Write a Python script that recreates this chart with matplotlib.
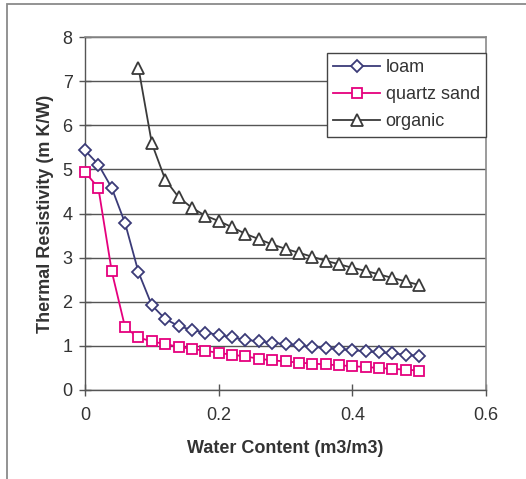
import matplotlib
matplotlib.use('Agg')
import matplotlib.pyplot as plt
from matplotlib.patches import Rectangle

plt.rcParams['font.family'] = ['Liberation Sans', 'DejaVu Sans']

# water content steps (m3/m3)
water = [0.00, 0.02, 0.04, 0.06, 0.08, 0.10, 0.12, 0.14, 0.16, 0.18,
         0.20, 0.22, 0.24, 0.26, 0.28, 0.30, 0.32, 0.34, 0.36, 0.38,
         0.40, 0.42, 0.44, 0.46, 0.48, 0.50]
loam = [5.43, 5.11, 4.58, 3.78, 2.67, 1.92, 1.61, 1.45, 1.36, 1.30,
        1.25, 1.19, 1.14, 1.10, 1.07, 1.04, 1.01, 0.98, 0.95, 0.93,
        0.90, 0.88, 0.85, 0.83, 0.80, 0.77]
quartz_sand = [4.94, 4.58, 2.69, 1.42, 1.19, 1.10, 1.04, 0.98, 0.93, 0.89,
               0.84, 0.80, 0.76, 0.71, 0.67, 0.65, 0.62, 0.60, 0.58, 0.56,
               0.54, 0.52, 0.50, 0.48, 0.46, 0.44]
water_org = water[4:]
organic = [7.30, 5.59, 4.77, 4.37, 4.13, 3.95, 3.83, 3.69, 3.54, 3.42,
           3.30, 3.20, 3.11, 3.02, 2.93, 2.85, 2.77, 2.70, 2.62, 2.54,
           2.46, 2.38]

fig = plt.figure(figsize=(5.26, 4.79), dpi=100)
# outer frame, only top and left edges visible
fig.add_artist(Rectangle((7 / 526, -0.2), 1.2, 1.2 - 4 / 479,
                         transform=fig.transFigure, fill=False,
                         edgecolor='#8a8a8a', linewidth=1.3))
ax = fig.add_axes([85 / 526, (479 - 390) / 479, 401 / 526, 353 / 479])

ax.plot(water, loam, '-D', color='#3b3b78', mfc='white', mec='#3b3b78',
        ms=6, mew=1.3, lw=1.3, label='loam', zorder=3, clip_on=False)
ax.plot(water, quartz_sand, '-s', color='#e5007d', mfc='white',
        mec='#e5007d', ms=7.5, mew=1.3, lw=1.3, label='quartz sand',
        zorder=3, clip_on=False)
ax.plot(water_org, organic, '-^', color='#3a3a3a', mfc='white',
        mec='#3a3a3a', ms=8.5, mew=1.3, lw=1.3, label='organic', zorder=3,
        clip_on=False)

ax.set_xlim(0, 0.6)
ax.set_ylim(0, 8)
ax.set_xticks([0, 0.2, 0.4, 0.6])
ax.set_xticklabels(['0', '0.2', '0.4', '0.6'])
ax.set_yticks(range(9))
ax.yaxis.grid(True, color='#555555', linewidth=1.0)
ax.set_axisbelow(True)
for s in ['top', 'right']:
    ax.spines[s].set_color('#8a8a8a')
    ax.spines[s].set_linewidth(1.2)
for s in ['left', 'bottom']:
    ax.spines[s].set_color('#555555')
    ax.spines[s].set_linewidth(1.0)
ax.tick_params(axis='both', direction='inout', length=8, width=1,
               color='#555555', labelsize=13, labelcolor='#333333')
ax.tick_params(axis='x', pad=8)
ax.tick_params(axis='y', pad=5)

ax.set_xlabel('Water Content (m3/m3)', fontsize=13, fontweight='bold',
              color='#333333', labelpad=12)
ax.set_ylabel('Thermal Resistivity (m K/W)', fontsize=13,
              fontweight='bold', color='#333333', labelpad=6)

leg = ax.legend(loc='upper right', bbox_to_anchor=(1.0, 337 / 353),
                borderaxespad=0, fancybox=False, framealpha=1,
                edgecolor='#444444', fontsize=13, handlelength=2.6,
                labelspacing=0.55, borderpad=0.35, handletextpad=0.3)
leg.get_frame().set_linewidth(1.0)
for t in leg.get_texts():
    t.set_color('#333333')

fig.savefig('out.png', dpi=100)
